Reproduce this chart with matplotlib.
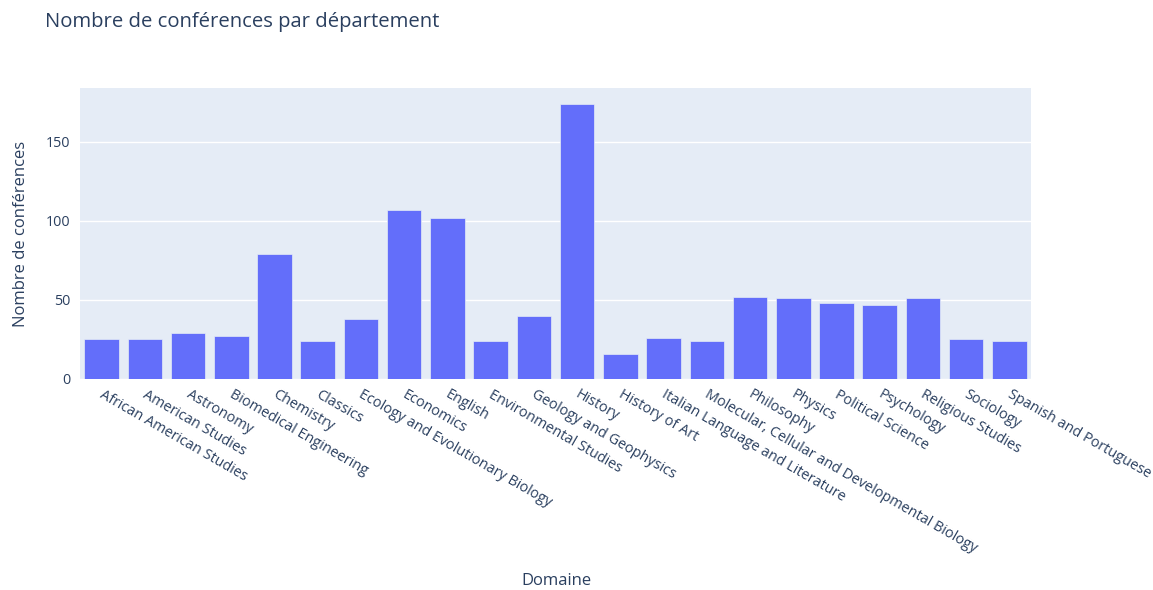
#!/usr/bin/env python3
"""Bar chart: number of lectures per department."""

import matplotlib

matplotlib.use("Agg")
import matplotlib.pyplot as plt
from matplotlib.transforms import ScaledTranslation

plt.rcParams["font.family"] = ["Open Sans", "DejaVu Sans"]

departments = [
    "African American Studies", "American Studies", "Astronomy", "Biomedical Engineering",
    "Chemistry", "Classics", "Ecology and Evolutionary Biology", "Economics", "English",
    "Environmental Studies", "Geology and Geophysics", "History", "History of Art",
    "Italian Language and Literature", "Molecular, Cellular and Developmental Biology",
    "Philosophy", "Physics", "Political Science", "Psychology", "Religious Studies",
    "Sociology", "Spanish and Portuguese",
]
counts = [25, 25, 29, 27, 79, 24, 38, 107, 102, 24, 40, 174, 16, 26, 24, 52, 51, 48, 47, 51, 25, 24]
y_ticks = [0, 50, 100, 150]

TEXT = "#2a3f5f"
W, H = 1153, 590

fig = plt.figure(figsize=(W / 100, H / 100), dpi=100)
ax = fig.add_axes([80 / W, 1 - 379 / H, (1031 - 80) / W, (379 - 88) / H])
ax.set_facecolor("#E5ECF6")

x = range(len(departments))
ax.bar(x, counts, width=0.8, color="#636efa", edgecolor="#E5ECF6", linewidth=0.5, zorder=3)

ax.set_xlim(-0.5, len(departments) - 0.5)
ax.set_ylim(0, max(counts) * 1.058)
ax.set_yticks(y_ticks)
ax.grid(axis="y", color="white", linewidth=1, zorder=0)
ax.tick_params(axis="y", length=0, pad=7, labelsize=10.4, labelcolor=TEXT)
ax.tick_params(axis="x", length=0, pad=6)
ax.set_xticks(list(x))
ax.set_xticklabels(departments, rotation=-30, ha="left", va="top", rotation_mode="anchor",
                   fontsize=10.4, color=TEXT)
# nudge the slanted labels a few pixels right, like plotly does
shift = ScaledTranslation(3 / 100, 0, fig.dpi_scale_trans)
for lab in ax.get_xticklabels():
    lab.set_transform(lab.get_transform() + shift)
for s in ax.spines.values():
    s.set_visible(False)

ax.set_ylabel("Nombre de conférences", fontsize=12, color=TEXT, labelpad=12)
fig.text(556 / W, 1 - 581 / H, "Domaine", fontsize=12, color=TEXT, ha="center", va="center")
fig.text(45 / W, 1 - 22 / H, "Nombre de conférences par département", fontsize=14.6,
         color=TEXT, ha="left", va="center")

fig.savefig("out.png", dpi=100)
plt.close(fig)
